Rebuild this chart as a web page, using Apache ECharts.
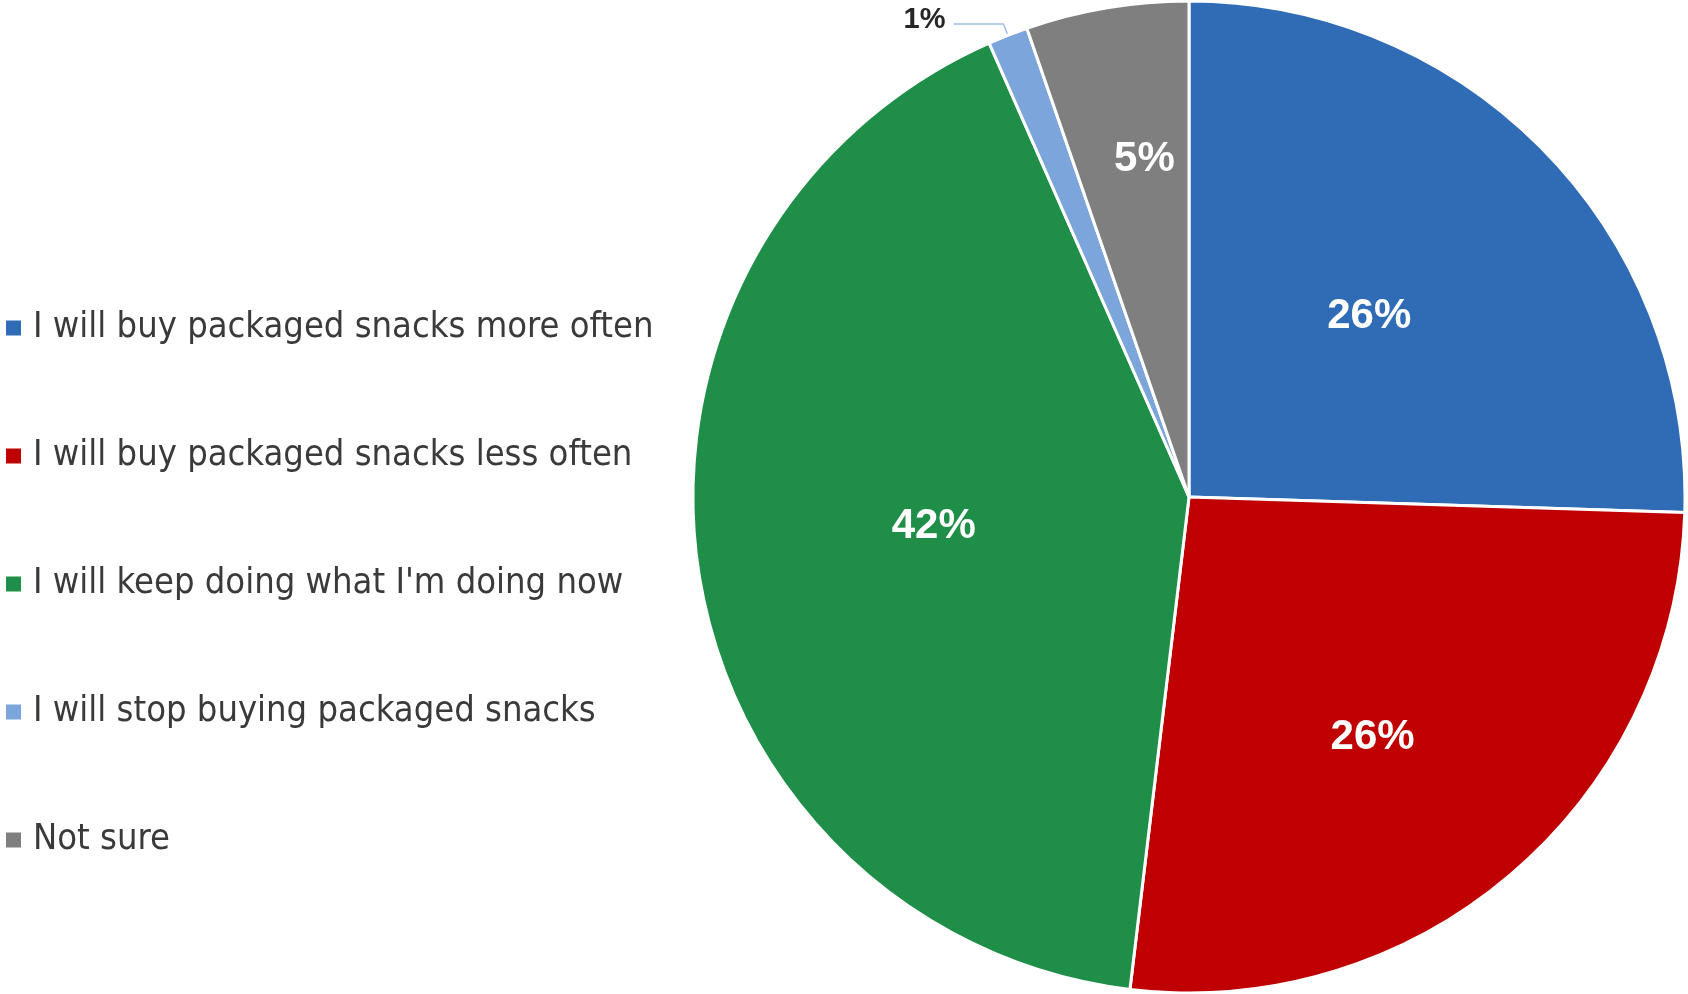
<!DOCTYPE html>
<html>
<head>
<meta charset="utf-8">
<script src="https://cdn.jsdelivr.net/npm/echarts@6/dist/echarts.min.js"></script>
<style>
  html, body { margin: 0; padding: 0; background: #fff; }
  #chart { width: 1688px; height: 994px; }
</style>
</head>
<body>
<div id="chart"></div>
<script>
// answers, in clockwise order from 12 o'clock
var answers = [
  'I will buy packaged snacks more often',
  'I will buy packaged snacks less often',
  "I will keep doing what I'm doing now",
  'I will stop buying packaged snacks',
  'Not sure'
];
// share of respondents (%)
var shares = [25.5, 26.4, 41.5, 1.3, 5.3];
var colors = ['#2F6CB5', '#C00000', '#1E8E48', '#7BA5DB', '#7F7F7F'];

var chart = echarts.init(document.getElementById('chart'));

var pieData = answers.map(function (name, i) {
  var item = { name: name, value: shares[i], itemStyle: { color: colors[i] } };
  if (i === 3) {
    // tiny slice: label outside with a leader line
    item.label = {
      position: 'outside',
      color: '#262626',
      fontSize: 29,
      fontWeight: 'bold',
      distanceToLabelLine: 4
    };
    item.labelLine = {
      show: true,
      length: 12,
      length2: 50,
      lineStyle: { color: '#9DBFE8', width: 1.5 }
    };
  }
  return item;
});

var option = {
  backgroundColor: '#fff',
  animation: false,
  legend: {
    orient: 'vertical',
    left: 4,
    top: 310,
    padding: 0,
    itemGap: 92,
    itemWidth: 17,
    itemHeight: 17,
    icon: 'rect',
    selectedMode: false,
    data: answers,
    textStyle: {
      fontFamily: '"Liberation Sans Narrow", "DejaVu Sans Condensed", sans-serif',
      fontSize: 36,
      lineHeight: 36,
      color: '#3A3A3A',
      padding: [0, 0, 0, 6]
    }
  },
  series: [
    {
      type: 'pie',
      center: [1189, 497],
      radius: 496,
      startAngle: 90,
      clockwise: true,
      avoidLabelOverlap: false,
      itemStyle: { borderColor: '#fff', borderWidth: 3 },
      label: {
        show: true,
        position: 'inside',
        color: '#fff',
        fontFamily: '"Liberation Sans", Arial, sans-serif',
        fontSize: 42,
        fontWeight: 'bold',
        formatter: function (p) { return Math.round(p.value) + '%'; }
      },
      labelLine: { show: false },
      labelLayout: function (p) {
        // Excel pushes some inside labels further out
        if (p.dataIndex === 0) return { dy: -6 };
        if (p.dataIndex === 1) return { dx: 20, dy: 50 };
        if (p.dataIndex === 2) return { dx: -7, dy: -8 };
        if (p.dataIndex === 3) return { dx: -4, dy: -4 };
        if (p.dataIndex === 4) return { dx: -3, dy: -90 };
        return {};
      },
      emphasis: { disabled: true },
      data: pieData
    }
  ]
};

chart.setOption(option);
</script>
</body>
</html>
